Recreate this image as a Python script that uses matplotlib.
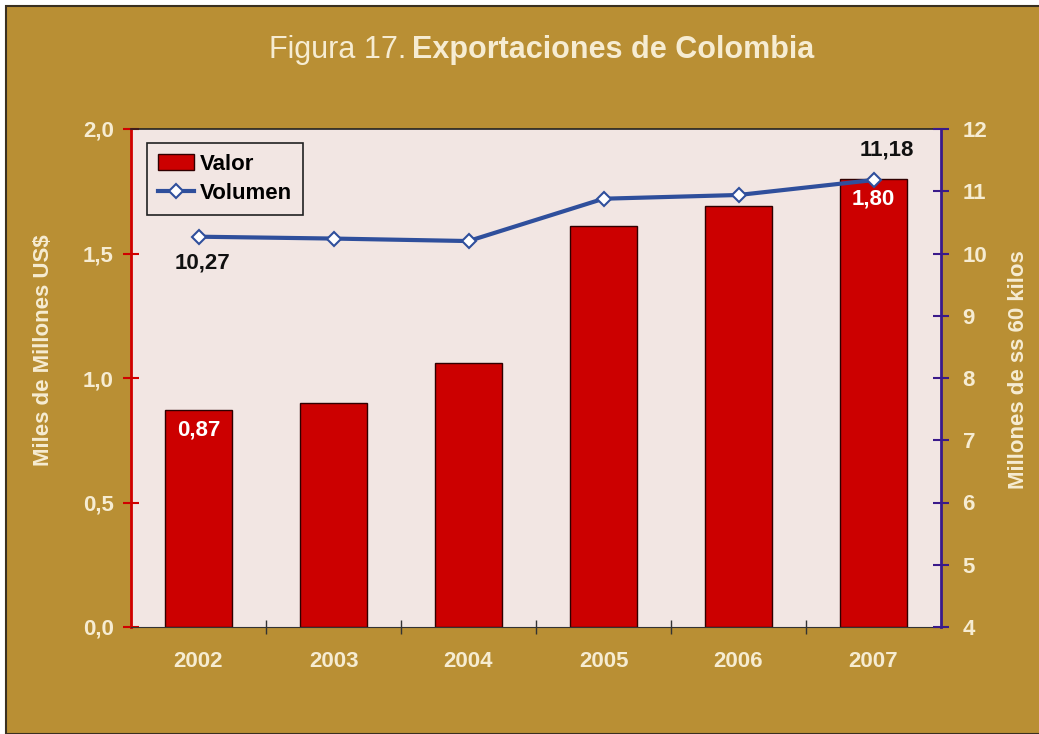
import numpy as np
import matplotlib.pyplot as plt
from matplotlib.patches import Rectangle, Patch
from matplotlib.lines import Line2D
from matplotlib.ticker import FuncFormatter, FixedLocator

plt.rcParams['font.family'] = ['Liberation Sans', 'DejaVu Sans']

# Exportaciones de café de Colombia
years = ['2002', '2003', '2004', '2005', '2006', '2007']
valor = [0.87, 0.90, 1.06, 1.61, 1.69, 1.80]          # miles de millones US$
volumen = [10.27, 10.24, 10.20, 10.88, 10.94, 11.18]  # millones de sacos de 60 kilos

gold = '#B98F34'
cream = '#F6ECD2'
plot_bg = '#F2E6E3'
bar_red = '#CC0000'
line_blue = '#2F4F9C'
right_blue = '#3A1A8A'
fs = 16

W, H = 1039, 734
fig = plt.figure(figsize=(W / 100, H / 100), dpi=100)
fig.patch.set_facecolor('white')

# fondo dorado con marco fino
fig.patches.append(Rectangle((6 / W, 0), 1, (H - 6) / H, transform=fig.transFigure,
                             facecolor=gold, edgecolor='#3A3020', lw=1.5, zorder=-1))

ax = fig.add_axes([131 / W, 1 - 627 / H, 810 / W, 498 / H])
ax.set_facecolor(plot_bg)
x = np.arange(len(years))

ax.bar(x, valor, width=0.49, color=bar_red, edgecolor='#300000', lw=1, zorder=2)
ax.set_xlim(-0.5, len(years) - 0.5)
ax.set_ylim(0, 2.0)
ax.set_yticks([0, 0.5, 1.0, 1.5, 2.0])
ax.yaxis.set_major_formatter(FuncFormatter(lambda v, p: f'{v:.1f}'.replace('.', ',')))
ax.set_xticks(x)
ax.set_xticklabels(years)
ax.xaxis.set_minor_locator(FixedLocator(x[:-1] + 0.5))

ax.tick_params(axis='y', direction='inout', length=11, width=1.5, color='#D00000',
               labelcolor=cream, labelsize=fs, pad=7)
ax.tick_params(axis='x', which='major', length=0, labelcolor=cream, labelsize=fs, pad=17)
ax.tick_params(axis='x', which='minor', direction='inout', length=10, width=1, color='#333333')
for lbl in ax.get_xticklabels() + ax.get_yticklabels():
    lbl.set_fontweight('bold')

ax.spines['left'].set_color('#D00000')
ax.spines['left'].set_linewidth(2)
ax.spines['bottom'].set_color('#333333')
ax.spines['top'].set_color('#222222')
ax.spines['top'].set_linewidth(1.2)
ax.spines['right'].set_visible(False)

ax.set_ylabel('Miles de Millones US$', color=cream, fontsize=fs, fontweight='bold')
ax.yaxis.set_label_coords(-0.095, 0.556)

ax2 = ax.twinx()
ax2.plot(x, volumen, color=line_blue, lw=3, marker='D', ms=7, mfc='white',
         mec=line_blue, mew=1.5, zorder=3)
ax2.set_ylim(4, 12)
ax2.set_yticks(range(4, 13))
ax2.tick_params(axis='y', direction='inout', length=11, width=1.5, color=right_blue,
                labelcolor=cream, labelsize=fs, pad=10)
for lbl in ax2.get_yticklabels():
    lbl.set_fontweight('bold')
ax2.spines['right'].set_color(right_blue)
ax2.spines['right'].set_linewidth(2)
for s in ['left', 'top', 'bottom']:
    ax2.spines[s].set_visible(False)
ax2.set_ylabel('Millones de ss 60 kilos', color=cream, fontsize=fs, fontweight='bold')
ax2.yaxis.set_label_coords(1.083, 0.516)

# etiquetas de datos
ax.text(x[0], valor[0] - 0.08, '0,87', color='white', fontsize=fs, fontweight='bold',
        ha='center', va='center', zorder=4)
ax.text(x[-1], valor[-1] - 0.08, '1,80', color='white', fontsize=fs, fontweight='bold',
        ha='center', va='center', zorder=4)
ax2.text(x[0] + 0.03, volumen[0] - 0.42, '10,27', color='#111111', fontsize=fs,
         fontweight='bold', ha='center', va='center')
ax2.text(x[-1] + 0.1, volumen[-1] + 0.48, '11,18', color='#111111', fontsize=fs,
         fontweight='bold', ha='center', va='center')

handles = [Patch(facecolor=bar_red, edgecolor='#300000'),
           Line2D([], [], color=line_blue, lw=3, marker='D', ms=7, mfc='white',
                  mec=line_blue, mew=1.5)]
leg = ax2.legend(handles, ['Valor', 'Volumen'], loc='upper left',
                 bbox_to_anchor=(0.02, 0.972), frameon=True, fancybox=False,
                 edgecolor='#222222', facecolor=plot_bg, framealpha=1,
                 prop={'weight': 'bold', 'size': fs}, handlelength=1.6,
                 handletextpad=0.25, borderpad=0.5, labelspacing=0.35,
                 borderaxespad=0)
leg.get_frame().set_linewidth(1.2)

fig.text(406 / W, 1 - 50 / H, 'Figura 17.', color=cream, fontsize=22, ha='right', va='center')
fig.text(412 / W, 1 - 50 / H, 'Exportaciones de Colombia', color=cream, fontsize=22,
         fontweight='bold', ha='left', va='center')

fig.savefig('out.png', dpi=100)
